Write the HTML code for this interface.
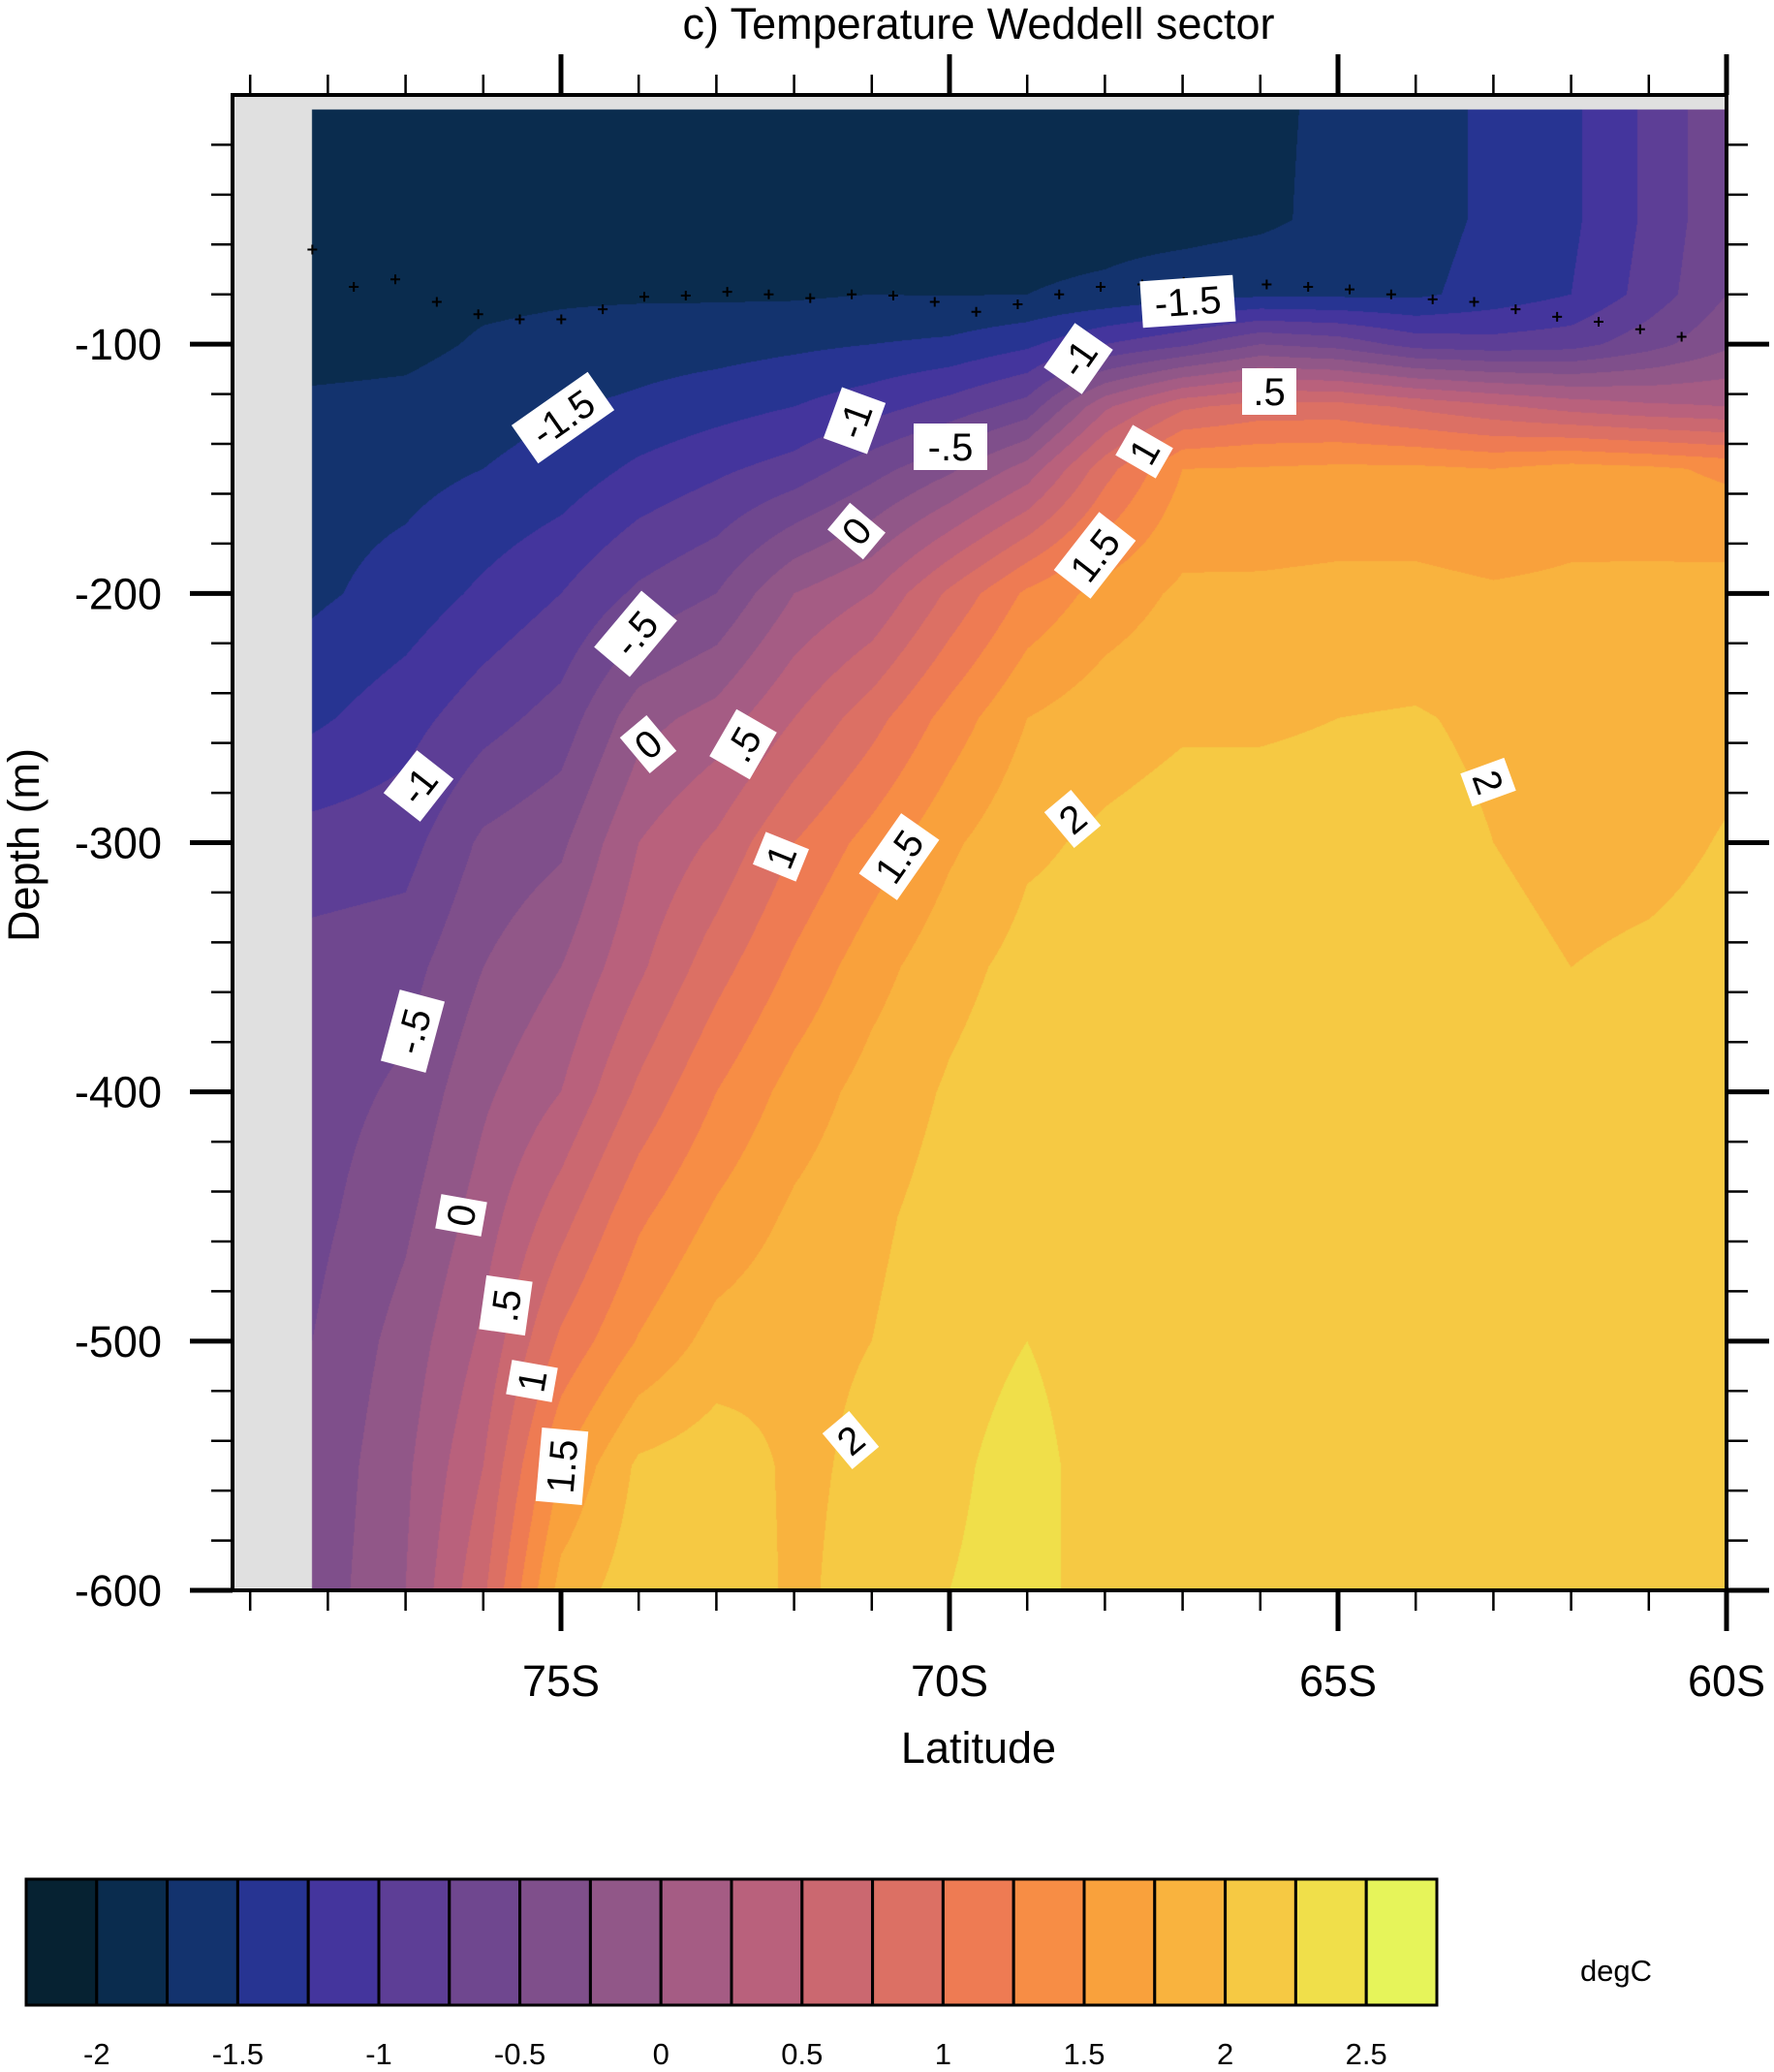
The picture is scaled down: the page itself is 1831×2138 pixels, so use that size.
<!DOCTYPE html>
<html><head><meta charset="utf-8">
<style>
html,body{margin:0;padding:0;background:#fff;}
#wrap{position:relative;width:1831px;height:2138px;overflow:hidden;font-family:"Liberation Sans",Arial,sans-serif;}
canvas{position:absolute;left:0;top:0;}
svg{position:absolute;left:0;top:0;}
</style></head>
<body>
<div id="wrap">
<canvas id="cv" width="1831" height="2138"></canvas>
<svg id="sv" width="1831" height="2138"></svg>
</div>
<script>
// ---- data ----
const lats = [78.2,77,76,75,74,73,72,71,70,69,68,67,66,65,64,63,62,61,60];
const depths = [6,50,80,100,125,150,200,250,300,350,400,450,500,550,600];
const tempByLat = [
[-1.85,-1.85,-1.85,-1.85,-1.7,-1.6,-1.55,-1.3,-0.9,-0.65,-0.62,-0.58,-0.5,-0.45,-0.42],
[-1.85,-1.85,-1.85,-1.82,-1.68,-1.58,-1.4,-1.1,-0.85,-0.6,-0.45,-0.3,-0.15,-0.05,0.0],
[-1.85,-1.85,-1.8,-1.72,-1.6,-1.5,-1.2,-0.85,-0.45,-0.25,-0.05,0.12,0.3,0.5,0.7],
[-1.85,-1.85,-1.78,-1.68,-1.52,-1.4,-1.0,-0.65,-0.3,0.0,0.25,0.65,1.05,1.5,1.85],
[-1.85,-1.85,-1.78,-1.62,-1.45,-1.2,-0.7,-0.1,0.25,0.45,0.8,1.2,1.52,2.05,2.15],
[-1.85,-1.85,-1.78,-1.6,-1.35,-1.05,-0.5,0.1,0.55,0.9,1.25,1.55,1.85,2.15,2.2],
[-1.85,-1.85,-1.78,-1.55,-1.25,-0.9,0.0,0.5,1.0,1.3,1.6,1.8,1.95,1.95,1.95],
[-1.85,-1.85,-1.75,-1.5,-1.1,-0.6,0.25,0.9,1.35,1.65,1.85,1.95,2.0,2.05,2.1],
[-1.85,-1.85,-1.76,-1.45,-0.9,-0.3,0.8,1.35,1.7,1.92,2.03,2.1,2.15,2.2,2.25],
[-1.85,-1.85,-1.75,-1.3,-0.65,0.1,1.3,1.75,1.96,2.08,2.15,2.2,2.25,2.35,2.35],
[-1.85,-1.85,-1.7,-1.0,0.2,0.9,1.6,1.9,2.04,2.1,2.1,2.12,2.12,2.12,2.12],
[-1.85,-1.85,-1.6,-0.8,0.7,1.5,1.8,1.97,2.1,2.1,2.1,2.1,2.1,2.1,2.1],
[-1.8,-1.8,-1.55,-0.5,0.85,1.52,1.8,1.97,2.1,2.1,2.1,2.1,2.1,2.1,2.1],
[-1.7,-1.68,-1.55,-0.6,0.85,1.55,1.82,2.0,2.1,2.1,2.1,2.1,2.1,2.1,2.1],
[-1.6,-1.6,-1.55,-0.85,0.7,1.55,1.82,2.02,2.1,2.1,2.1,2.1,2.1,2.1,2.1],
[-1.45,-1.45,-1.4,-0.9,0.55,1.5,1.78,1.95,2.0,2.1,2.1,2.1,2.1,2.1,2.1],
[-1.3,-1.3,-1.25,-0.85,0.4,1.6,1.8,1.85,1.9,2.0,2.1,2.1,2.1,2.1,2.1],
[-0.95,-0.95,-0.9,-0.6,0.3,1.55,1.82,1.88,1.92,2.05,2.1,2.1,2.1,2.1,2.1],
[-0.55,-0.55,-0.5,-0.3,0.25,1.45,1.85,1.92,2.02,2.1,2.1,2.1,2.1,2.1,2.1]
];
const levels = [-2,-1.75,-1.5,-1.25,-1,-0.75,-0.5,-0.25,0,0.25,0.5,0.75,1,1.25,1.5,1.75,2,2.25,2.5];
const colors = ["#062232","#0a2c4e","#13336e","#273492","#44359d","#5d3e96","#6f478f","#7f4f8b","#915788","#a55c84","#b9617c","#cb6870","#dc7064","#ee7b53","#f78d45","#f9a13c","#f9b33e","#f6c943","#f0df4a","#e6f45a"];
const cbLabels = ["-2","-1.5","-1","-0.5","0","0.5","1","1.5","2","2.5"];
const yTicks = [-100,-200,-300,-400,-500,-600];
const xTicks = [75,70,65,60];
const mldStart = 78.2, mldStep = 0.534;
const mldDepths = [62,77,74,83,88,90,90,86,81,80.5,79,80,81.5,80,80.5,83,87,84,80,77,76,75,75,76,77,78,80,82,83,86,89,91,94,97];
const contourLabels = [
["-1.5",581,431,-35],["-1",882,434,-70],["-.5",981,461,0],["-1",1113,370,-55],["-1.5",1226,311,-4],
[".5",1310,404,0],["1",1181,466,-60],["0",884,548,-50],["1.5",1130,573,-52],["-.5",656,654,-50],
["0",669,768,-40],[".5",767,768,-60],["-1",432,811,-52],["1",806,884,-68],["1.5",928,884,-55],
["2",1107,845,-40],["2",1536,807,70],["-.5",426,1064,-75],["0",476,1254,-80],[".5",522,1347,-82],
["1",549,1425,-80],["1.5",580,1513,-85],["2",878,1486,-40]
];
// ---- axes ----
const X0=240,X1=1782,Y0=98,Y1=1641;
function xOf(lat){return 1782-(lat-60)*80.2;}
function yOf(d){return Y0+d*(Y1-Y0)/600;}
function latOf(x){return 60+(1782-x)/80.2;}
function depOf(y){return (y-Y0)*600/(Y1-Y0);}
function hexRgb(h){return [parseInt(h.substr(1,2),16),parseInt(h.substr(3,2),16),parseInt(h.substr(5,2),16)];}
const rgb = colors.map(hexRgb);
function interp(lat,d){
  let i=0; while(i<lats.length-2 && lat<lats[i+1]) i++;
  let j=0; while(j<depths.length-2 && d>depths[j+1]) j++;
  let fx=(lats[i]-lat)/(lats[i]-lats[i+1]); fx=Math.max(0,Math.min(1,fx));
  let fy=(d-depths[j])/(depths[j+1]-depths[j]); fy=Math.max(0,Math.min(1,fy));
  const a=tempByLat[i][j],b=tempByLat[i+1][j],c=tempByLat[i][j+1],e=tempByLat[i+1][j+1];
  return (a*(1-fx)+b*fx)*(1-fy)+(c*(1-fx)+e*fx)*fy;
}
function band(v){let k=0; while(k<levels.length && v>=levels[k]) k++; return k;}
const cv=document.getElementById('cv'); const ctx=cv.getContext('2d');
ctx.fillStyle='#e0e0e0'; ctx.fillRect(X0,Y0,X1-X0,Y1-Y0);
const dx0=Math.round(xOf(lats[0])), dy0=Math.round(yOf(depths[0]));
const W=X1-dx0, H=Y1-dy0;
const img=ctx.createImageData(W,H);
for(let py=0;py<H;py++){const d=depOf(dy0+py+0.5);
  for(let px=0;px<W;px++){const c=rgb[band(interp(latOf(dx0+px+0.5),d))];const o=(py*W+px)*4;
    img.data[o]=c[0];img.data[o+1]=c[1];img.data[o+2]=c[2];img.data[o+3]=255;}}
ctx.putImageData(img,dx0,dy0);
// ---- svg ----
const NS="http://www.w3.org/2000/svg"; const sv=document.getElementById('sv');
function mk(tag,attrs,parent){const e=document.createElementNS(NS,tag);for(const k in attrs)e.setAttribute(k,attrs[k]);(parent||sv).appendChild(e);return e;}
const mg=mk('g',{});  
mldDepths.forEach((d,i)=>{const x=xOf(mldStart-i*mldStep),y=yOf(d);
  const p=mk('path',{d:`M${x-5} ${y}H${x+5}M${x} ${y-5}V${y+5}`,stroke:'#000','stroke-width':2},mg);
   });
contourLabels.forEach(l=>{const g=mk('g',{transform:`translate(${l[1]},${l[2]}) rotate(${l[3]})`});
   
  const w=l[0].length*20+16;
  mk('rect',{x:-w/2,y:-24,width:w,height:48,fill:'#fff'},g);
  const t=mk('text',{x:0,y:14,'text-anchor':'middle','font-size':40,fill:'#000'},g); t.textContent=l[0];});
const fr=mk('rect',{x:X0,y:Y0,width:X1-X0,height:Y1-Y0,fill:'none',stroke:'#000','stroke-width':4});
 
const tg=mk('g',{stroke:'#000'});  
for(let d=20;d<=600;d+=20){const y=yOf(d);const major=d%100===0;const L=major?44:22;
  mk('line',{x1:X0-L,y1:y,x2:X0,y2:y,'stroke-width':major?5:2.5},tg);
  mk('line',{x1:X1,y1:y,x2:X1+L,y2:y,'stroke-width':major?5:2.5},tg);}
for(let lat=79;lat>=60;lat--){const x=xOf(lat);const major=lat%5===0;const L=major?42:21;
  mk('line',{x1:x,y1:Y1,x2:x,y2:Y1+L,'stroke-width':major?5:2.5},tg);
  mk('line',{x1:x,y1:Y0-L,x2:x,y2:Y0,'stroke-width':major?5:2.5},tg);}
yTicks.forEach(v=>{const t=mk('text',{x:167,y:yOf(-v)+16,'text-anchor':'end','font-size':45});t.textContent=String(v);
   });
xTicks.forEach(v=>{const t=mk('text',{x:xOf(v),y:1750,'text-anchor':'middle','font-size':45});t.textContent=v+'S';
   });
let t=mk('text',{x:1010,y:40,'text-anchor':'middle','font-size':45});t.textContent='c) Temperature Weddell sector';
 
t=mk('text',{x:1010,y:1819,'text-anchor':'middle','font-size':45});t.textContent='Latitude';
 
t=mk('text',{x:0,y:0,'text-anchor':'middle','font-size':45,transform:'translate(40,872) rotate(-90)'});t.textContent='Depth (m)';
 
const cb=mk('g',{});  
const bw=(1483-27)/colors.length;
colors.forEach((c,i)=>{const r=mk('rect',{x:27+i*bw,y:1939,width:bw,height:130,fill:c,stroke:'#000','stroke-width':3},cb);
   });
cbLabels.forEach((s,i)=>{const tt=mk('text',{x:27+(1+2*i)*bw,y:2130,'text-anchor':'middle','font-size':31},cb);tt.textContent=s;
   });
t=mk('text',{x:1668,y:2044,'text-anchor':'middle','font-size':31});t.textContent='degC';
 
</script>
</body></html>
